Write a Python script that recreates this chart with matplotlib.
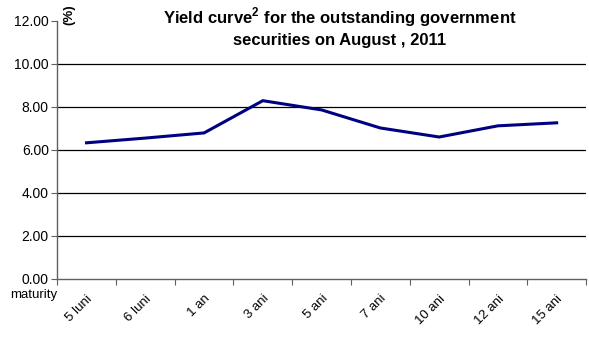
import matplotlib.pyplot as plt
import numpy as np

plt.rcParams['font.family'] = ['Liberation Sans', 'DejaVu Sans']
plt.rcParams['mathtext.fontset'] = 'custom'
plt.rcParams['mathtext.bf'] = 'Liberation Sans:bold'
plt.rcParams['mathtext.rm'] = 'Liberation Sans'

# data
maturities = ['5 luni', '6 luni', '1 an', '3 ani', '5 ani', '7 ani', '10 ani', '12 ani', '15 ani']
yields = [6.33, 6.55, 6.79, 8.29, 7.86, 7.02, 6.60, 7.12, 7.26]
yticks = [0, 2, 4, 6, 8, 10, 12]

fig = plt.figure(figsize=(5.89, 3.38), dpi=100)
ax = fig.add_axes([0.097, 0.175, 0.898, 0.763])

x = np.arange(len(maturities)) + 0.5
ax.plot(x, yields, color='#000080', lw=2.2, solid_joinstyle='miter', zorder=3)

ax.set_xlim(0, len(maturities))
ax.set_ylim(0, 12)
ax.set_yticks(yticks)
ax.set_yticklabels([f'{v:.2f}' for v in yticks], fontsize=10)
for v in yticks[1:-1]:
    ax.axhline(v, color='black', lw=0.9, zorder=1)

# category boundaries get ticks, labels sit between them
ax.set_xticks(np.arange(len(maturities) + 1))
ax.set_xticklabels([])
ax.set_xticks(x, minor=True)
ax.set_xticklabels(maturities, minor=True, rotation=45, ha='right', va='top',
                   rotation_mode='anchor', fontsize=9.5)
ax.tick_params(axis='x', which='minor', length=0, pad=10)
ax.tick_params(axis='x', which='major', length=4, direction='out', color='#606060')
ax.tick_params(axis='y', length=4, direction='out', color='#606060', pad=2)

for s in ['top', 'right']:
    ax.spines[s].set_visible(False)
for s in ['left', 'bottom']:
    ax.spines[s].set_color('#606060')
    ax.spines[s].set_linewidth(1.0)

fig.text(0.057, 0.128, 'maturity', fontsize=9.5, ha='center', va='center')
fig.text(0.118, 0.957, '(%)', fontsize=9.5, fontweight='bold', rotation=90,
         ha='center', va='center')
fig.text(0.577, 0.948, 'Yield curve$^{\\mathbf{2}}$ for the outstanding government',
         fontsize=12, fontweight='bold', ha='center', va='center')
fig.text(0.577, 0.880, 'securities on August , 2011',
         fontsize=12, fontweight='bold', ha='center', va='center')

fig.savefig('out.png', dpi=100)
